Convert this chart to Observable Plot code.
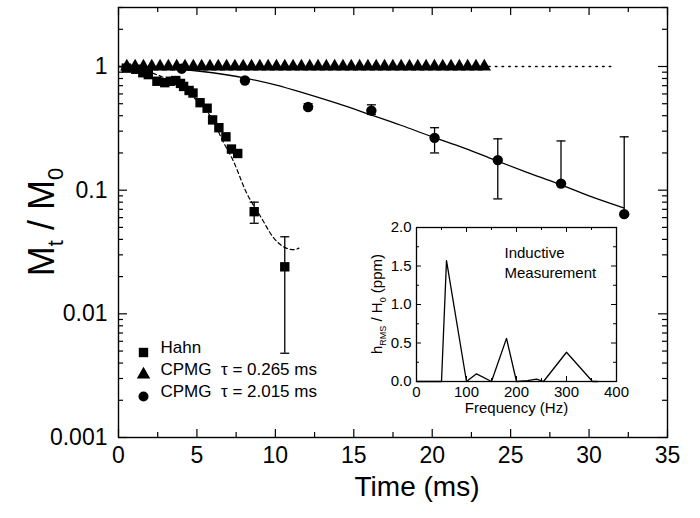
<!DOCTYPE html>
<html><head><meta charset="utf-8">
<script src="https://cdn.jsdelivr.net/npm/d3@7"></script>
<script src="https://cdn.jsdelivr.net/npm/@observablehq/plot@0.6"></script>
<style>
html,body{margin:0;padding:0;background:#fff;}
#wrap{position:relative;width:700px;height:518px;font-family:"Liberation Sans",Arial,Helvetica,sans-serif;}
#wrap svg{position:absolute;overflow:visible;}
</style></head><body><div id="wrap"></div>
<script>
// ---------- main chart data ----------
const timeTicks = [0, 5, 10, 15, 20, 25, 30, 35];
const timeMinorTicks = [2.5, 7.5, 12.5, 17.5, 22.5, 27.5, 32.5];
const mTicks = [0.001, 0.01, 0.1, 1];
const mTickLabels = ["0.001", "0.01", "0.1", "1"];
const mMinorTicks = [0.002,0.003,0.004,0.005,0.006,0.007,0.008,0.009,
  0.02,0.03,0.04,0.05,0.06,0.07,0.08,0.09,
  0.2,0.3,0.4,0.5,0.6,0.7,0.8,0.9, 2, 3];

// Hahn echo (squares)
const hahnT = [0.5, 1.1, 1.55, 1.9, 2.45, 2.95, 3.3, 3.65, 3.95, 4.15, 4.5, 4.75, 5.2, 5.65, 6.0, 6.4, 6.85, 7.2, 7.6, 8.65, 10.6];
const hahnM = [0.97, 0.95, 0.89, 0.86, 0.76, 0.74, 0.76, 0.77, 0.73, 0.69, 0.64, 0.61, 0.51, 0.46, 0.37, 0.32, 0.27, 0.215, 0.198, 0.067, 0.024];
const hahnErrT = [8.65, 10.6];
const hahnErrLo = [0.054, 0.0048];
const hahnErrHi = [0.08, 0.042];
// Hahn fit (dashed)
const hahnFitT = [0, 1, 2, 3, 4, 5, 6, 6.65, 7.36, 8.1, 9.1, 9.9, 10.7, 11.2, 11.5];
const hahnFitM = [1.0, 0.97, 0.9, 0.8, 0.68, 0.53, 0.37, 0.25, 0.168, 0.099, 0.06, 0.041, 0.034, 0.033, 0.034];

// CPMG tau = 0.265 ms (triangles)
const cpmgAT = [0.53,1.06,1.59,2.12,2.65,3.18,3.71,4.24,4.77,5.3,5.83,6.36,6.89,7.42,7.95,8.48,9.01,9.54,10.07,10.6,11.13,11.66,12.19,12.72,13.25,13.78,14.31,14.84,15.37,15.9,16.43,16.96,17.49,18.02,18.55,19.08,19.61,20.14,20.67,21.2,21.73,22.26,22.79,23.32];
const cpmgAM = [1.0,1.0,1.0,1.0,1.0,1.0,1.0,1.0,1.0,1.0,1.0,1.0,1.0,1.0,1.0,1.0,1.0,1.0,1.0,1.0,1.0,1.0,1.0,1.0,1.0,1.0,1.0,1.0,1.0,1.0,1.0,1.0,1.0,1.0,1.0,1.0,1.0,1.0,1.0,1.0,1.0,1.0,1.0,1.0];
const cpmgAFitT = [23.6, 31.6];
const cpmgAFitM = [1.0, 1.0];

// CPMG tau = 2.015 ms (circles)
const cpmgBT = [4.03, 8.06, 12.09, 16.12, 20.15, 24.18, 28.21, 32.24];
const cpmgBM = [0.96, 0.77, 0.47, 0.44, 0.265, 0.175, 0.113, 0.064];
const cpmgBErrT = [12.09, 16.12, 20.15, 24.18, 28.21, 32.24];
const cpmgBErrLo = [0.45, 0.41, 0.20, 0.085, 0.113, 0.064];
const cpmgBErrHi = [0.50, 0.49, 0.32, 0.26, 0.25, 0.27];
const cpmgBFitT = [0, 2, 4, 6, 8, 10, 12, 14, 16, 18, 20, 22, 24, 26, 28, 30, 32.2];
const cpmgBFitM = [1.0, 0.99, 0.95, 0.89, 0.81, 0.71, 0.6, 0.5, 0.41, 0.335, 0.27, 0.22, 0.175, 0.14, 0.113, 0.09, 0.072];

const legendLabels = ["Hahn", "CPMG  \u03c4 = 0.265 ms", "CPMG  \u03c4 = 2.015 ms"];
const legendSymbols = ["square", "triangle", "circle"];

// ---------- inset data ----------
const freqHz = [0, 50, 60, 100, 120, 150, 180, 200, 222, 240, 254, 300, 352, 362];
const hRms = [0, 0, 1.57, 0.0, 0.10, 0.0, 0.56, 0.0, 0.01, 0.03, 0.0, 0.38, 0.0, 0.0];
const freqTicks = [0, 100, 200, 300, 400];
const freqTickLabels = ["0", "100", "200", "300", "400"];
const freqMinorTicks = [50, 150, 250, 350];
const hTicks = [0, 0.5, 1, 1.5, 2];
const hTickLabels = ["0.0", "0.5", "1.0", "1.5", "2.0"];
const hMinorTicks = [0.25, 0.75, 1.25, 1.75];
const insetCaption = ["Inductive", "Measurement"];

// ---------- layout ----------
const FONT = '"Liberation Sans", Arial, Helvetica, sans-serif';
const W = 700, H = 518, mL = 118, mR = 33, mT = 7, mB = 81;
const pw = W - mL - mR, ph = H - mT - mB;
const idx = a => a.map((_, i) => i);
const capSymbol = {draw(ctx) { ctx.moveTo(-4.5, 0); ctx.lineTo(4.5, 0); }};

const legendMarks = [];
legendLabels.forEach((lab, i) => {
  legendMarks.push(Plot.dot([lab], {frameAnchor: "bottom-left", dx: 25, dy: -85 + 22 * i,
    symbol: legendSymbols[i], r: legendSymbols[i] === "circle" ? 5 : (legendSymbols[i] === "square" ? 5.3 : 5),
    fill: "black", stroke: "none"}));
  legendMarks.push(Plot.text([lab], {frameAnchor: "bottom-left", dx: 42, dy: -85 + 22 * i, text: d => d,
    textAnchor: "start", fontSize: 17, fill: "black"}));
});

const main = Plot.plot({
  width: W, height: H, marginLeft: mL, marginRight: mR, marginTop: mT, marginBottom: mB,
  style: {fontFamily: FONT, color: "black", background: "transparent", overflow: "visible"},
  x: {domain: [0, 35]},
  y: {type: "log", domain: [0.001, 3]},
  marks: [
    Plot.axisX({ticks: timeTicks, tickSize: 0, tickPadding: 9, fontSize: 23, label: null}),
    Plot.axisY({ticks: mTicks, tickSize: 0, tickPadding: 11, fontSize: 23, label: null,
      tickFormat: d => mTickLabels[mTicks.indexOf(d)]}),
    // inward ticks on all four sides
    Plot.ruleX(timeTicks, {stroke: "black", strokeWidth: 1.2, insetTop: ph - 8}),
    Plot.ruleX(timeMinorTicks, {stroke: "black", strokeWidth: 1.2, insetTop: ph - 5}),
    Plot.ruleX(timeTicks, {stroke: "black", strokeWidth: 1.2, insetBottom: ph - 8}),
    Plot.ruleX(timeMinorTicks, {stroke: "black", strokeWidth: 1.2, insetBottom: ph - 5}),
    Plot.ruleY(mTicks, {stroke: "black", strokeWidth: 1.2, insetRight: pw - 9}),
    Plot.ruleY(mMinorTicks, {stroke: "black", strokeWidth: 1.2, insetRight: pw - 5}),
    Plot.ruleY(mTicks, {stroke: "black", strokeWidth: 1.2, insetLeft: pw - 9}),
    Plot.ruleY(mMinorTicks, {stroke: "black", strokeWidth: 1.2, insetLeft: pw - 5}),
    Plot.frame({stroke: "black", strokeWidth: 1.4}),
    // fits
    Plot.line(idx(hahnFitT), {x: i => hahnFitT[i], y: i => hahnFitM[i], stroke: "black", strokeWidth: 1.2, strokeDasharray: "4,3", curve: "monotone-x"}),
    Plot.line(idx(cpmgBFitT), {x: i => cpmgBFitT[i], y: i => cpmgBFitM[i], stroke: "black", strokeWidth: 1.3, curve: "monotone-x"}),
    Plot.line(idx(cpmgAFitT), {x: i => cpmgAFitT[i], y: i => cpmgAFitM[i], stroke: "black", strokeWidth: 1.5, strokeDasharray: "1.5,5.2"}),
    // error bars
    Plot.ruleX(idx(hahnErrT), {x: i => hahnErrT[i], y1: i => hahnErrLo[i], y2: i => hahnErrHi[i], stroke: "black", strokeWidth: 1.3}),
    Plot.dot(idx(hahnErrT), {x: i => hahnErrT[i], y: i => hahnErrLo[i], symbol: capSymbol, stroke: "black", fill: "none", strokeWidth: 1.3}),
    Plot.dot(idx(hahnErrT), {x: i => hahnErrT[i], y: i => hahnErrHi[i], symbol: capSymbol, stroke: "black", fill: "none", strokeWidth: 1.3}),
    Plot.ruleX(idx(cpmgBErrT), {x: i => cpmgBErrT[i], y1: i => cpmgBErrLo[i], y2: i => cpmgBErrHi[i], stroke: "black", strokeWidth: 1.3}),
    Plot.dot(idx(cpmgBErrT), {x: i => cpmgBErrT[i], y: i => cpmgBErrLo[i], symbol: capSymbol, stroke: "black", fill: "none", strokeWidth: 1.3}),
    Plot.dot(idx(cpmgBErrT), {x: i => cpmgBErrT[i], y: i => cpmgBErrHi[i], symbol: capSymbol, stroke: "black", fill: "none", strokeWidth: 1.3}),
    // data points
    Plot.dot(idx(cpmgAT), {x: i => cpmgAT[i], y: i => cpmgAM[i], symbol: "triangle", r: 5, fill: "black", stroke: "none"}),
    Plot.dot(idx(hahnT), {x: i => hahnT[i], y: i => hahnM[i], symbol: "square", r: 5.3, fill: "black", stroke: "none"}),
    Plot.dot(idx(cpmgBT), {x: i => cpmgBT[i], y: i => cpmgBM[i], symbol: "circle", r: 5.2, fill: "black", stroke: "none"}),
    ...legendMarks,
    Plot.text(["Time (ms)"], {frameAnchor: "bottom", dx: 24, dy: 58, text: d => d, fontSize: 28, fill: "black"})
  ]
});
main.style.left = "0px"; main.style.top = "0px";
document.getElementById("wrap").appendChild(main);

// y axis title with subscripts
{
  const svg = d3.select(main);
  const t = svg.append("text").attr("transform", `translate(54,${mT + ph / 2}) rotate(-90)`)
    .attr("text-anchor", "middle").attr("font-size", 36).attr("font-family", FONT).attr("fill", "black");
  t.append("tspan").text("M");
  t.append("tspan").attr("font-size", 22).attr("dy", 9).text("t");
  t.append("tspan").attr("dy", -9).text(" / M");
  t.append("tspan").attr("font-size", 22).attr("dy", 9).text("0");
}

// ---------- inset ----------
const iL = 360, iT = 220, imL = 56, imT = 7, ipw = 200, iph = 154, imB = 45, imR = 14;
const inset = Plot.plot({
  width: imL + ipw + imR, height: imT + iph + imB,
  marginLeft: imL, marginRight: imR, marginTop: imT, marginBottom: imB,
  style: {fontFamily: FONT, color: "black", background: "transparent", overflow: "visible"},
  x: {domain: [0, 400]},
  y: {domain: [0, 2]},
  marks: [
    Plot.axisX({ticks: freqTicks, tickSize: 0, tickPadding: 5, fontSize: 15, label: null,
      tickFormat: d => freqTickLabels[freqTicks.indexOf(d)]}),
    Plot.axisY({ticks: hTicks, tickSize: 0, tickPadding: 5, fontSize: 15, label: null,
      tickFormat: d => hTickLabels[hTicks.indexOf(d)]}),
    Plot.ruleX(freqTicks, {stroke: "black", insetTop: iph - 5}),
    Plot.ruleX(freqMinorTicks, {stroke: "black", insetTop: iph - 3}),
    Plot.ruleX(freqTicks, {stroke: "black", insetBottom: iph - 5}),
    Plot.ruleX(freqMinorTicks, {stroke: "black", insetBottom: iph - 3}),
    Plot.ruleY(hTicks, {stroke: "black", insetRight: ipw - 5}),
    Plot.ruleY(hMinorTicks, {stroke: "black", insetRight: ipw - 3}),
    Plot.ruleY(hTicks, {stroke: "black", insetLeft: ipw - 5}),
    Plot.ruleY(hMinorTicks, {stroke: "black", insetLeft: ipw - 3}),
    Plot.frame({stroke: "black", strokeWidth: 1.3}),
    Plot.line(idx(freqHz), {x: i => freqHz[i], y: i => hRms[i], stroke: "black", strokeWidth: 1.3}),
    Plot.text([insetCaption[0]], {frameAnchor: "top-left", dx: 88, dy: 20, text: d => d,
      textAnchor: "start", fontSize: 15, fill: "black"}),
    Plot.text([insetCaption[1]], {frameAnchor: "top-left", dx: 88, dy: 40, text: d => d,
      textAnchor: "start", fontSize: 15, fill: "black"}),
    Plot.text(["Frequency (Hz)"], {frameAnchor: "bottom", dy: 31, text: d => d, fontSize: 15, fill: "black"})
  ]
});
inset.style.left = iL + "px"; inset.style.top = iT + "px";
document.getElementById("wrap").appendChild(inset);
{
  const svg = d3.select(inset);
  const t = svg.append("text").attr("transform", `translate(22,${imT + iph / 2}) rotate(-90)`)
    .attr("text-anchor", "middle").attr("font-size", 15).attr("font-family", FONT).attr("fill", "black");
  t.append("tspan").text("h");
  t.append("tspan").attr("font-size", 9).attr("dy", 4).text("RMS");
  t.append("tspan").attr("dy", -4).text(" / H");
  t.append("tspan").attr("font-size", 9).attr("dy", 4).text("0");
  t.append("tspan").attr("dy", -4).text(" (ppm)");
}
</script></body></html>
